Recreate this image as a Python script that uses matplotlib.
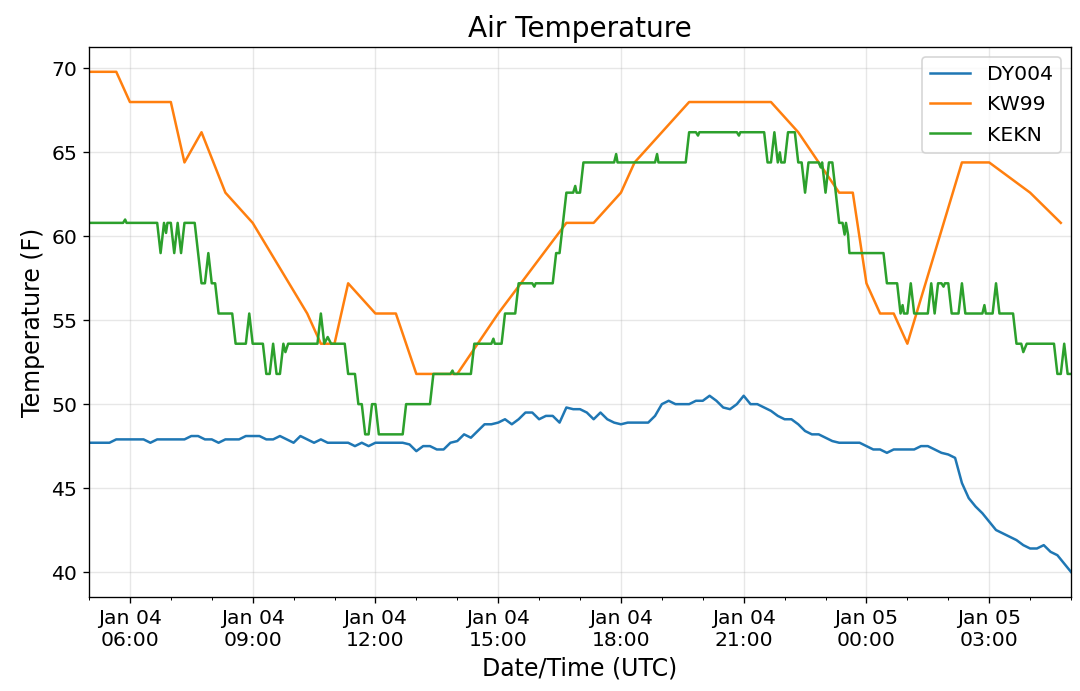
import matplotlib
matplotlib.use("Agg")
import matplotlib.pyplot as plt
import matplotlib.dates as mdates
import pandas as pd

# DY004: 10-minute readings, Jan 04 05:00 -> Jan 05 05:00 (UTC)
dy004_start = "2020-01-04 05:00"
dy004_temp = [
    47.7, 47.7, 47.7, 47.7, 47.9, 47.9, 47.9, 47.9, 47.9, 47.7,
    47.9, 47.9, 47.9, 47.9, 47.9, 48.1, 48.1, 47.9, 47.9, 47.7,
    47.9, 47.9, 47.9, 48.1, 48.1, 48.1, 47.9, 47.9, 48.1, 47.9,
    47.7, 48.1, 47.9, 47.7, 47.9, 47.7, 47.7, 47.7, 47.7, 47.5,
    47.7, 47.5, 47.7, 47.7, 47.7, 47.7, 47.7, 47.6, 47.2, 47.5,
    47.5, 47.3, 47.3, 47.7, 47.8, 48.2, 48.0, 48.4, 48.8, 48.8,
    48.9, 49.1, 48.8, 49.1, 49.5, 49.5, 49.1, 49.3, 49.3, 48.9,
    49.8, 49.7, 49.7, 49.5, 49.1, 49.5, 49.1, 48.9, 48.8, 48.9,
    48.9, 48.9, 48.9, 49.3, 50.0, 50.2, 50.0, 50.0, 50.0, 50.2,
    50.2, 50.5, 50.2, 49.8, 49.7, 50.0, 50.5, 50.0, 50.0, 49.8,
    49.6, 49.3, 49.1, 49.1, 48.8, 48.4, 48.2, 48.2, 48.0, 47.8,
    47.7, 47.7, 47.7, 47.7, 47.5, 47.3, 47.3, 47.1, 47.3, 47.3,
    47.3, 47.3, 47.5, 47.5, 47.3, 47.1, 47.0, 46.8, 45.3, 44.4,
    43.9, 43.5, 43.0, 42.5, 42.3, 42.1, 41.9, 41.6, 41.4, 41.4,
    41.6, 41.2, 41.0, 40.5, 40.0,
]

# KW99: reported points ("day HH:MM")
kw99_time = [
    "04 05:00", "04 05:40", "04 06:00", "04 07:00", "04 07:20", "04 07:45",
    "04 08:20", "04 09:00", "04 10:20", "04 10:40", "04 11:00", "04 11:20",
    "04 12:00", "04 12:30", "04 13:00", "04 14:00", "04 15:00", "04 16:40",
    "04 17:20", "04 18:00", "04 18:20", "04 19:40", "04 21:40", "04 22:20",
    "04 23:20", "04 23:40", "05 00:00", "05 00:20", "05 00:40", "05 01:00",
    "05 02:20", "05 03:00", "05 04:00", "05 04:45",
]
kw99_temp = [
    69.8, 69.8, 68.0, 68.0, 64.4, 66.2,
    62.6, 60.8, 55.4, 53.6, 53.6, 57.2,
    55.4, 55.4, 51.8, 51.8, 55.4, 60.8,
    60.8, 62.6, 64.4, 68.0, 68.0, 66.2,
    62.6, 62.6, 57.2, 55.4, 55.4, 53.6,
    64.4, 64.4, 62.6, 60.8,
]

# KEKN: 5-minute data, listed where the value changes
kekn_time = [
    "04 05:00", "04 05:50", "04 05:53", "04 05:55", "04 06:40", "04 06:45",
    "04 06:50", "04 06:53", "04 06:55", "04 07:00", "04 07:05", "04 07:10",
    "04 07:15", "04 07:20", "04 07:35", "04 07:45", "04 07:50", "04 07:55",
    "04 08:00", "04 08:05", "04 08:10", "04 08:30", "04 08:35", "04 08:50",
    "04 08:55", "04 09:00", "04 09:15", "04 09:20", "04 09:25", "04 09:30",
    "04 09:35", "04 09:40", "04 09:45", "04 09:48", "04 09:52", "04 10:35",
    "04 10:40", "04 10:45", "04 10:50", "04 10:55", "04 11:15", "04 11:20",
    "04 11:30", "04 11:35", "04 11:40", "04 11:45", "04 11:50", "04 11:55",
    "04 12:00", "04 12:05", "04 12:40", "04 12:45", "04 13:20", "04 13:25",
    "04 13:50", "04 13:53", "04 13:55", "04 14:20", "04 14:25", "04 14:50",
    "04 14:53", "04 14:55", "04 15:05", "04 15:10", "04 15:25", "04 15:30",
    "04 15:50", "04 15:53", "04 15:55", "04 16:20", "04 16:25", "04 16:30",
    "04 16:40", "04 16:50", "04 16:53", "04 16:55", "04 17:00", "04 17:05",
    "04 17:50", "04 17:53", "04 17:55", "04 18:50", "04 18:53", "04 18:55",
    "04 19:35", "04 19:40", "04 19:50", "04 19:53", "04 19:55", "04 20:50",
    "04 20:53", "04 20:55", "04 21:30", "04 21:35", "04 21:40", "04 21:45",
    "04 21:50", "04 21:53", "04 21:55", "04 22:00", "04 22:05", "04 22:15",
    "04 22:20", "04 22:25", "04 22:30", "04 22:35", "04 22:50", "04 22:53",
    "04 22:55", "04 23:00", "04 23:05", "04 23:10", "04 23:20", "04 23:25",
    "04 23:28", "04 23:30", "04 23:33", "04 23:35", "05 00:25", "05 00:30",
    "05 00:45", "05 00:50", "05 00:53", "05 00:55", "05 01:00", "05 01:05",
    "05 01:10", "05 01:30", "05 01:35", "05 01:40", "05 01:45", "05 01:50",
    "05 01:53", "05 01:55", "05 02:00", "05 02:05", "05 02:15", "05 02:20",
    "05 02:25", "05 02:50", "05 02:53", "05 02:55", "05 03:05", "05 03:10",
    "05 03:15", "05 03:35", "05 03:40", "05 03:47", "05 03:50", "05 03:55",
    "05 04:35", "05 04:40", "05 04:45", "05 04:50", "05 04:55", "05 05:00",
]
kekn_temp = [
    60.8, 60.8, 61.0, 60.8, 60.8, 59.0,
    60.8, 60.2, 60.8, 60.8, 59.0, 60.8,
    59.0, 60.8, 60.8, 57.2, 57.2, 59.0,
    57.2, 57.2, 55.4, 55.4, 53.6, 53.6,
    55.4, 53.6, 53.6, 51.8, 51.8, 53.6,
    51.8, 51.8, 53.6, 53.1, 53.6, 53.6,
    55.4, 53.6, 54.0, 53.6, 53.6, 51.8,
    51.8, 50.0, 50.0, 48.2, 48.2, 50.0,
    50.0, 48.2, 48.2, 50.0, 50.0, 51.8,
    51.8, 52.0, 51.8, 51.8, 53.6, 53.6,
    53.9, 53.6, 53.6, 55.4, 55.4, 57.2,
    57.2, 57.0, 57.2, 57.2, 59.0, 59.0,
    62.6, 62.6, 63.0, 62.6, 62.6, 64.4,
    64.4, 64.9, 64.4, 64.4, 64.9, 64.4,
    64.4, 66.2, 66.2, 66.0, 66.2, 66.2,
    66.0, 66.2, 66.2, 64.4, 64.4, 66.2,
    64.4, 65.0, 64.4, 64.4, 66.2, 66.2,
    64.4, 64.4, 62.6, 64.4, 64.4, 64.1,
    64.4, 62.6, 64.4, 64.4, 60.8, 60.8,
    60.1, 60.8, 60.1, 59.0, 59.0, 57.2,
    57.2, 55.4, 55.9, 55.4, 55.4, 57.2,
    55.4, 55.4, 57.2, 55.4, 57.2, 57.2,
    57.0, 57.2, 57.2, 55.4, 55.4, 57.2,
    55.4, 55.4, 55.9, 55.4, 55.4, 57.2,
    55.4, 55.4, 53.6, 53.6, 53.1, 53.6,
    53.6, 51.8, 51.8, 53.6, 51.8, 51.8,
]


def to_dates(times):
    return pd.to_datetime(["2020-01-" + t for t in times], format="%Y-%m-%d %H:%M")


dy004_dates = pd.date_range(dy004_start, periods=len(dy004_temp), freq="10min")

fig, ax = plt.subplots(figsize=(9, 5.76), dpi=120)
fig.subplots_adjust(left=0.0824, right=0.9917, bottom=0.136, top=0.932)

ax.plot(dy004_dates, dy004_temp, color="C0", label="DY004")
ax.plot(to_dates(kw99_time), kw99_temp, color="C1", label="KW99")
ax.plot(to_dates(kekn_time), kekn_temp, color="C2", label="KEKN")

ax.set_xlim(dy004_dates[0], dy004_dates[-1])
ax.xaxis.set_major_locator(mdates.HourLocator(byhour=range(0, 24, 3)))
ax.xaxis.set_minor_locator(mdates.HourLocator())
ax.xaxis.set_major_formatter(mdates.DateFormatter("%b %d\n%H:%M"))
ax.tick_params(labelsize=12.2)
ax.grid(alpha=0.3)

ax.set_title("Air Temperature", fontsize=16.8)
ax.set_xlabel("Date/Time (UTC)", fontsize=14.2)
ax.set_ylabel("Temperature (F)", fontsize=14.2)
ax.legend(loc="upper right", fontsize=12.2, labelspacing=0.55)

fig.savefig("out.png", dpi=120)
